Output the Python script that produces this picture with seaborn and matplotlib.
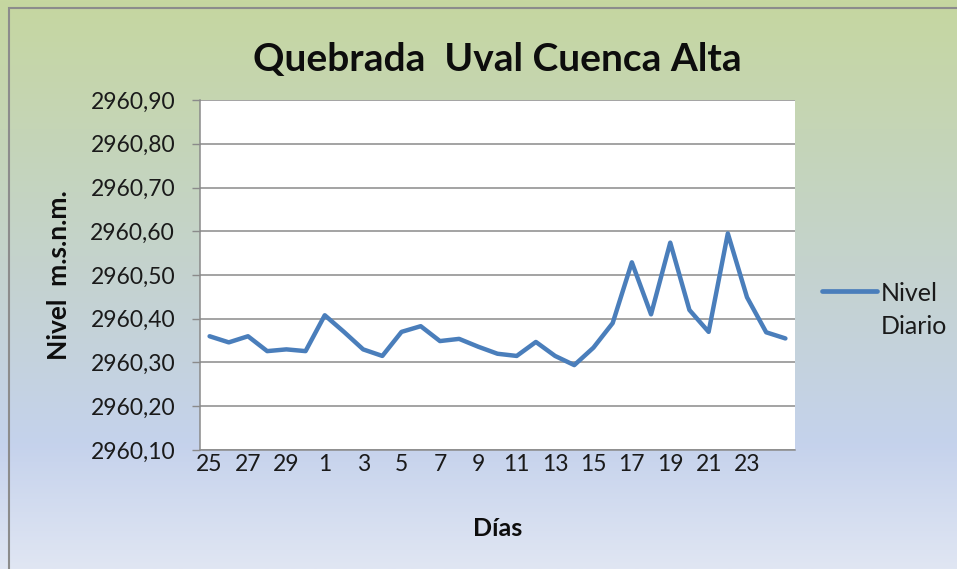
import numpy as np
import matplotlib
matplotlib.use("Agg")
import matplotlib.pyplot as plt
import seaborn as sns
from matplotlib.patches import Rectangle
from matplotlib.ticker import FuncFormatter

# datos
dias = [25, 26, 27, 28, 29, 30, 1, 2, 3, 4, 5, 6, 7, 8, 9, 10, 11, 12, 13, 14,
        15, 16, 17, 18, 19, 20, 21, 22, 23, 24, 25]
nivel = [2960.360, 2960.346, 2960.360, 2960.326, 2960.330, 2960.326, 2960.408,
         2960.370, 2960.330, 2960.315, 2960.370, 2960.383, 2960.349, 2960.354,
         2960.336, 2960.320, 2960.315, 2960.347, 2960.315, 2960.294, 2960.334,
         2960.390, 2960.529, 2960.410, 2960.574, 2960.420, 2960.370, 2960.595,
         2960.449, 2960.369, 2960.355]
y_ticks = [2960.10, 2960.20, 2960.30, 2960.40, 2960.50, 2960.60, 2960.70,
           2960.80, 2960.90]

sns.set_theme(style="white")
plt.rcParams['font.family'] = ['Lato', 'DejaVu Sans']

fig = plt.figure(figsize=(9.57, 5.69), dpi=100)

# fondo con degradado (verde arriba, azul abajo)
bg = fig.add_axes([0, 0, 1, 1], zorder=-10)
stops = [0.0, 0.45, 0.78, 1.0]
cols = np.array([[198, 215, 160], [196, 211, 204], [197, 210, 236], [224, 230, 243]]) / 255
t = np.linspace(0, 1, 300)
grad = np.stack([np.interp(t, stops, cols[:, k]) for k in range(3)], axis=1)
bg.imshow(grad[:, None, :], aspect='auto', extent=[0, 1, 0, 1])
bg.add_patch(Rectangle((9 / 957, -0.1), 2, (569 - 8) / 569 + 0.1, fill=False,
                       edgecolor='#8c8c8c', linewidth=1.5, transform=bg.transAxes))
bg.set_xlim(0, 1)
bg.set_ylim(0, 1)
bg.axis('off')

ax = fig.add_axes([200 / 957, 1 - 450 / 569, 595 / 957, 350 / 569])
ax.set_facecolor('white')
x = np.arange(len(nivel))
sns.lineplot(x=x, y=nivel, ax=ax, color='#4a7ebb', linewidth=3.2,
             label='Nivel\nDiario', legend=False)

ax.set_xlim(-0.5, len(nivel) - 0.5)
ax.set_ylim(y_ticks[0], y_ticks[-1])
ax.set_yticks(y_ticks)
ax.yaxis.set_major_formatter(FuncFormatter(lambda v, p: f"{v:.2f}".replace('.', ',')))
ax.grid(axis='y', color='#8a8a8a', linewidth=1.1)
ax.set_axisbelow(True)

# etiquetas cada 2 dias, marcas entre categorias
ax.set_xticks(x[:-1:2])
ax.set_xticklabels([str(d) for d in dias[:-1:2]])
ax.set_xticks(np.arange(len(nivel) + 1) - 0.5, minor=True)
ax.tick_params(axis='x', which='major', length=0, pad=3, labelsize=16.5, colors='#1a1a1a')
ax.tick_params(axis='x', which='minor', length=5.5, width=1, color='#8a8a8a', direction='out')
ax.tick_params(axis='y', length=6, width=1, color='#8a8a8a', direction='out',
               labelsize=16.5, colors='#1a1a1a', pad=12, left=True)
for s in ['top', 'right']:
    ax.spines[s].set_visible(False)
for s in ['left', 'bottom']:
    ax.spines[s].set_color('#8a8a8a')
    ax.spines[s].set_linewidth(1.1)

ax.set_xlabel('Días', fontsize=18, fontweight='bold', labelpad=30, color='#0d0d0d')
ax.set_ylabel('Nivel  m.s.n.m.', fontsize=19, fontweight='bold', labelpad=14, color='#0d0d0d')
ax.set_title('Quebrada  Uval Cuenca Alta', fontsize=28, fontweight='bold', pad=21, color='#0d0d0d')

leg = ax.legend(loc='upper left', bbox_to_anchor=(1.045, 0.48), frameon=False,
                fontsize=18, handlelength=2.2, handletextpad=0.15, borderpad=0,
                borderaxespad=0, labelcolor='#1a1a1a')
for ln in leg.get_lines():
    ln.set_linewidth(3.4)
for txt in leg.get_texts():
    txt.set_linespacing(1.5)
# la linea de la leyenda va a la altura de la primera fila
leg._legend_handle_box.get_children()[0].get_children()[0].align = 'top'

fig.savefig('out.png', dpi=100)
